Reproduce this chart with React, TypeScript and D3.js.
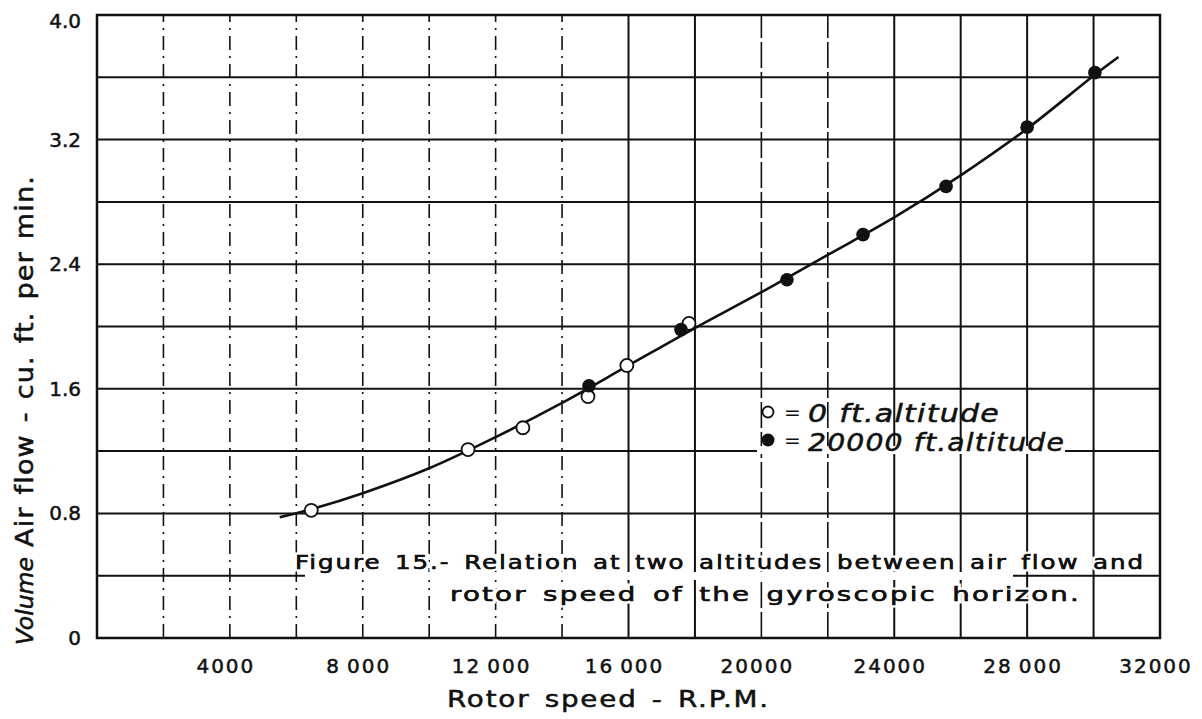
import React from 'react';
import * as d3 from 'd3';

// rotor speed (rpm) vs air flow (cu. ft. per min.)
const seaLevelRpm = [6450, 11170, 12820, 14780, 15950, 17820];
const seaLevelFlow = [0.82, 1.21, 1.35, 1.55, 1.75, 2.02];

const altRpm = [14810, 17580, 20770, 23060, 25560, 28000, 30040];
const altFlow = [1.62, 1.98, 2.30, 2.59, 2.90, 3.28, 3.63];

// faired curve
const curveRpm = [5500, 6500, 8000, 10000, 12000, 14000, 16000, 18000, 20000, 22000, 24000, 26000, 28000, 30000, 30750];
const curveFlow = [0.775, 0.83, 0.93, 1.09, 1.29, 1.51, 1.75, 1.99, 2.22, 2.46, 2.70, 2.97, 3.27, 3.61, 3.73];

const xGrid = d3.range(2000, 32001, 2000);
const yGrid = d3.range(0.4, 4.01, 0.4);
const xTickValues = [4000, 8000, 12000, 16000, 20000, 24000, 28000, 32000];
const xTickLabels = ['4000', '8\u2009000', '12\u2009000', '16\u2009000', '20000', '24000', '28\u2009000', '32000'];
const yTickValues = [0, 0.8, 1.6, 2.4, 3.2, 4.0];
const yTickLabels = ['0', '0.8', '1.6', '2.4', '3.2', '4.0'];

const W = 1202;
const H = 719;
const margin = { top: 15, right: 42, bottom: 81, left: 97 };
const font = '"DejaVu Sans", sans-serif';

const App = () => {
  const x = d3.scaleLinear().domain([0, 32000]).range([margin.left, W - margin.right]);
  const y = d3.scaleLinear().domain([0, 4]).range([H - margin.bottom, margin.top]);

  const curvePts: [number, number][] = curveRpm.map((r, i) => [r, curveFlow[i]]);
  const line = d3
    .line<[number, number]>()
    .x((d) => x(d[0]))
    .y((d) => y(d[1]))
    .curve(d3.curveCatmullRom.alpha(0.5));

  const ink = '#111';
  // slight outline so the thin font reads like the pen lettering
  const pen = { stroke: ink, strokeWidth: 0.5 };

  const captionLines = (
    <>
      <text x={295} y={569} textLength={850} lengthAdjust="spacingAndGlyphs" letterSpacing={1.5} wordSpacing={3}>
        Figure 15.- Relation at two altitudes between air flow and
      </text>
      <text x={450} y={601} textLength={631} lengthAdjust="spacingAndGlyphs" letterSpacing={1.5} wordSpacing={3}>
        rotor speed of the gyroscopic horizon.
      </text>
    </>
  );

  return (
    <svg
      width={W}
      height={H}
      style={{ position: 'absolute', left: 0, top: 0, display: 'block', background: '#fff' }}
    >
      {/* horizontal grid */}
      {yGrid.map((v) => (
        <line key={'h' + v} x1={x(0)} x2={x(32000)} y1={y(v)} y2={y(v)} stroke={ink} strokeWidth={2} />
      ))}
      {/* vertical grid, broken on the left half like the original */}
      {xGrid.map((v) => (
        <line
          key={'v' + v}
          x1={x(v)}
          x2={x(v)}
          y1={y(0)}
          y2={y(4)}
          stroke={ink}
          strokeWidth={v < 16000 || v === 20000 || v === 22000 ? 1.6 : 2}
          strokeDasharray={v < 16000 ? '14 6 2 6' : v === 20000 || v === 22000 ? '26 4' : undefined}
        />
      ))}
      {/* frame */}
      <rect
        x={x(0)}
        y={y(4)}
        width={x(32000) - x(0)}
        height={y(0) - y(4)}
        fill="none"
        stroke={ink}
        strokeWidth={2.5}
      />

      {/* gaps in the ruling behind the lettering */}
      <rect x={305} y={572} width={708} height={8} fill="#fff" />
      <rect x={757} y={446} width={308} height={8} fill="#fff" />

      {/* faired curve */}
      <path d={line(curvePts) || ''} fill="none" stroke={ink} strokeWidth={2.6} />

      {/* 0 ft altitude */}
      {seaLevelRpm.map((r, i) => (
        <circle key={'o' + i} cx={x(r)} cy={y(seaLevelFlow[i])} r={6.5} fill="#fff" stroke={ink} strokeWidth={1.8} />
      ))}
      {/* 20000 ft altitude */}
      {altRpm.map((r, i) => (
        <circle key={'f' + i} cx={x(r)} cy={y(altFlow[i])} r={6.8} fill={ink} />
      ))}

      {/* y tick labels */}
      {yTickValues.map((v, i) => (
        <text
          key={'yl' + v}
          x={81}
          y={y(v) + (v === 4 ? 6 : 0)}
          textAnchor="end"
          dominantBaseline="central"
          fontFamily={font}
          fontSize={20}
          fill={ink}
          {...pen}
        >
          {yTickLabels[i]}
        </text>
      ))}
      {/* x tick labels */}
      {xTickValues.map((v, i) => (
        <text
          key={'xl' + v}
          x={x(v) - 4}
          y={673}
          textAnchor="middle"
          fontFamily={font}
          fontSize={20}
          letterSpacing={2}
          fill={ink}
          {...pen}
        >
          {xTickLabels[i]}
        </text>
      ))}

      {/* axis titles */}
      <text
        x={447}
        y={707}
        fontFamily={font}
        fontSize={23}
        fill={ink}
        {...pen}
        textLength={323}
        lengthAdjust="spacingAndGlyphs"
        letterSpacing={1.5}
        wordSpacing={3}
      >
        Rotor speed - R.P.M.
      </text>
      <g transform="translate(33,547) rotate(-90)">
        <text
          x={0}
          y={0}
          fontFamily={font}
          fontSize={24}
          fill={ink}
          {...pen}
          textLength={372}
          lengthAdjust="spacingAndGlyphs"
          letterSpacing={1}
          wordSpacing={2}
        >
          Air flow - cu. ft. per min.
        </text>
      </g>
      <g transform="translate(33,645) rotate(-90)">
        <text
          x={0}
          y={0}
          fontFamily={font}
          fontStyle="italic"
          fontSize={23}
          fill={ink}
          {...pen}
          textLength={88}
          lengthAdjust="spacingAndGlyphs"
        >
          Volume
        </text>
      </g>

      {/* legend */}
      <circle cx={768} cy={412} r={5.5} fill="#fff" stroke={ink} strokeWidth={1.8} />
      <text x={784} y={419} fontFamily={font} fontSize={20} fill={ink}>=</text>
      <text
        x={808}
        y={422}
        fontFamily={font}
        fontStyle="italic"
        fontSize={24}
        fill={ink}
        {...pen}
        textLength={192}
        lengthAdjust="spacingAndGlyphs"
        letterSpacing={1}
      >
        0 ft.altitude
      </text>
      <circle cx={768} cy={440} r={6.5} fill={ink} />
      <text x={784} y={447} fontFamily={font} fontSize={20} fill={ink}>=</text>
      <text
        x={808}
        y={451}
        fontFamily={font}
        fontStyle="italic"
        fontSize={24}
        fill={ink}
        {...pen}
        textLength={257}
        lengthAdjust="spacingAndGlyphs"
        letterSpacing={1}
      >
        20000 ft.altitude
      </text>

      {/* caption: white halo cuts the ruling, then the ink on top */}
      <g fontFamily={font} fontSize={19} fill={ink} stroke="#fff" strokeWidth={5} style={{ paintOrder: 'stroke' }}>
        {captionLines}
      </g>
      <g fontFamily={font} fontSize={19} fill={ink} {...pen}>
        {captionLines}
      </g>
    </svg>
  );
};

export default App;
